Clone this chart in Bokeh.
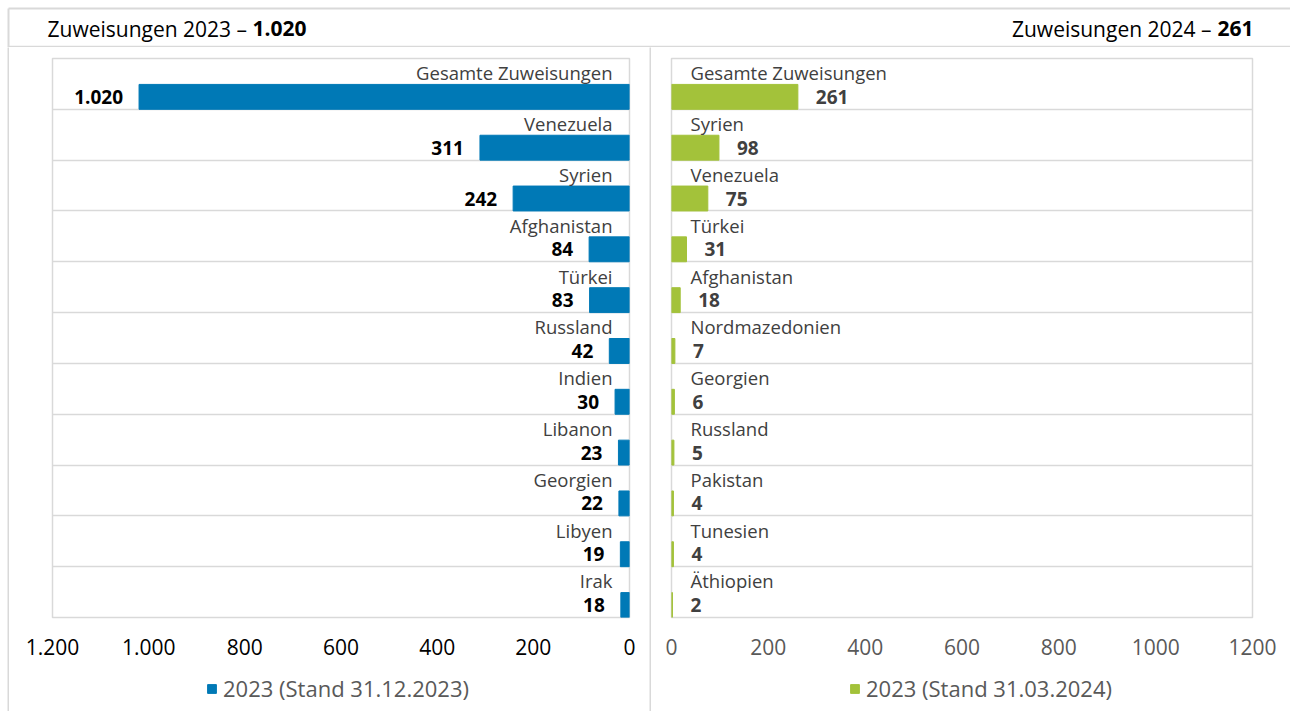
from bokeh.plotting import figure
from bokeh.models import Range1d, FixedTicker, Legend, LegendItem, ColumnDataSource, Spacer
from bokeh.layouts import row, column
from bokeh.embed import file_html
from bokeh.resources import INLINE
from bokeh.core.properties import value

# ---- data ----
left_countries = ["Gesamte Zuweisungen", "Venezuela", "Syrien", "Afghanistan", "Türkei",
                  "Russland", "Indien", "Libanon", "Georgien", "Libyen", "Irak"]
left_values = [1020, 311, 242, 84, 83, 42, 30, 23, 22, 19, 18]
left_value_labels = ["1.020", "311", "242", "84", "83", "42", "30", "23", "22", "19", "18"]

right_countries = ["Gesamte Zuweisungen", "Syrien", "Venezuela", "Türkei", "Afghanistan",
                   "Nordmazedonien", "Georgien", "Russland", "Pakistan", "Tunesien", "Äthiopien"]
right_values = [261, 98, 75, 31, 18, 7, 6, 5, 4, 4, 2]
right_value_labels = ["261", "98", "75", "31", "18", "7", "6", "5", "4", "4", "2"]

ticks = [0, 200, 400, 600, 800, 1000, 1200]
left_tick_labels = ["0", "200", "400", "600", "800", "1.000", "1.200"]
right_tick_labels = ["0", "200", "400", "600", "800", "1000", "1200"]

left_title = "Zuweisungen 2023 –"
left_title_bold = "1.020"
right_title = "Zuweisungen 2024 –"
right_title_bold = "261"
left_legend = "2023 (Stand 31.12.2023)"
right_legend = "2023 (Stand 31.03.2024)"

BLUE = "#0079B6"
GREEN = "#A3C23A"
LINE = "#D9D9D9"
FONT = "Open Sans"
W, H = 1290, 711
HEAD = 47          # header height
PLOT_H = 618       # plot figure height (47..665)
LEG_H = H - HEAD - PLOT_H


def plain_fig(width, height, xr, yr, bg="white"):
    p = figure(width=width, height=height, x_range=xr, y_range=yr,
               output_backend="svg", toolbar_location=None,
               x_axis_location=None, y_axis_location=None,
               min_border=0)
    p.outline_line_color = None
    p.grid.visible = False
    p.background_fill_color = bg
    p.border_fill_color = bg
    return p


def plot_fig(width, xr, mbl, mbr, tick_labels, tick_color):
    n = len(left_countries)
    p = figure(width=width, height=PLOT_H, x_range=xr, y_range=Range1d(n, 0),
               output_backend="svg", toolbar_location=None, y_axis_location=None,
               min_border_left=mbl, min_border_right=mbr,
               min_border_top=58 - HEAD, min_border_bottom=PLOT_H - (617 - HEAD))
    p.outline_line_color = LINE
    p.outline_line_width = 1.5
    p.xgrid.visible = False
    p.ygrid.ticker = FixedTicker(ticks=list(range(1, n)))
    p.ygrid.grid_line_color = LINE
    p.ygrid.grid_line_width = 1.5
    ax = p.xaxis[0]
    ax.ticker = FixedTicker(ticks=ticks)
    ax.major_label_overrides = {t: l for t, l in zip(ticks, tick_labels)}
    ax.axis_line_color = None
    ax.major_tick_line_color = None
    ax.minor_tick_line_color = None
    ax.major_label_standoff = 15
    ax.major_label_text_font = FONT
    ax.major_label_text_font_size = "21px"
    ax.major_label_text_color = tick_color
    p.background_fill_color = "white"
    p.border_fill_color = "white"
    return p


def add_rows(p, countries, vals, vlabels, color, side, val_color):
    n = len(countries)
    ys_bar = [i + 0.755 for i in range(n)]
    ys_cat = [i + 0.28 for i in range(n)]
    src = ColumnDataSource(dict(y=ys_bar, v=vals, lab=vlabels))
    p.hbar(y="y", left=0, right="v", height=0.49, color=color, source=src)
    csrc = ColumnDataSource(dict(y=ys_cat, x=[0] * n, t=countries))
    sign = -1 if side == "left" else 1
    align = "right" if side == "left" else "left"
    p.text(x="x", y="y", text="t", source=csrc, x_offset=sign * (17 if side == "left" else 19),
           text_align=align, text_baseline="middle", text_font=value(FONT),
           text_font_size="18.5px", text_color="#404040")
    p.text(x="v", y="y", text="lab", source=src, x_offset=sign * (16 if side == "left" else 18),
           text_align=align, text_baseline="middle", text_font=value(FONT),
           text_font_size="19px", text_font_style="bold", text_color=val_color)


def legend_fig(width, color, label, lx):
    p = plain_fig(width, LEG_H, Range1d(0, 1), Range1d(0, 1))
    # proxy glyph (kept outside the visible range) that only feeds the legend swatch
    r = p.hbar(y=[-10], left=[0], right=[1], height=0.5, color=color)
    leg = Legend(items=[LegendItem(label=label, renderers=[r])],
                 location=(lx, 8), orientation="horizontal", border_line_color=None,
                 background_fill_alpha=0, glyph_width=11, glyph_height=11,
                 label_text_font=FONT, label_text_font_size="22px", label_height=20,
                 label_text_color="#595959", label_standoff=6, padding=0, margin=0)
    p.add_layout(leg, "center")
    return p


# ---- header ----
head = plain_fig(W, HEAD, Range1d(0, W), Range1d(HEAD, 0))
head.segment(x0=[8, 8], y0=[8, 46], x1=[W, W], y1=[8, 46], line_color=LINE, line_width=[2, 1.5])
head.segment(x0=[8], y0=[8], x1=[8], y1=[HEAD], line_color=LINE, line_width=2)
head.text(x=[47], y=[28], text=[left_title], text_baseline="middle", text_font=value(FONT),
          text_font_size="21px", text_color="#000000")
head.text(x=[252], y=[28], text=[left_title_bold], text_baseline="middle", text_font=value(FONT),
          text_font_size="21px", text_font_style="bold", text_color="#000000")
head.text(x=[1211], y=[28], text=[right_title], text_align="right", text_baseline="middle",
          text_font=value(FONT), text_font_size="21px", text_color="#000000")
head.text(x=[1253], y=[28], text=[right_title_bold], text_align="right", text_baseline="middle",
          text_font=value(FONT), text_font_size="21px", text_font_style="bold", text_color="#000000")

# ---- left panel ----
X0 = 9            # left panel starts after the left border line
LW = 649 - X0     # up to divider
pl = plot_fig(LW, Range1d(1200, 0), 52 - X0, (X0 + LW) - 629, left_tick_labels, "#000000")
add_rows(pl, left_countries, left_values, left_value_labels, BLUE, "left", "#000000")
ll = legend_fig(LW, BLUE, left_legend, 154)

# ---- right panel ----
RX0 = 651
RW = W - RX0
pr = plot_fig(RW, Range1d(0, 1200), 671 - RX0, W - 1252, right_tick_labels, "#595959")
add_rows(pr, right_countries, right_values, right_value_labels, GREEN, "right", "#404040")
rl = legend_fig(RW, GREEN, right_legend, 178)

vline_left = plain_fig(2, H - HEAD, Range1d(0, 1), Range1d(0, 1), bg=LINE)
divider = plain_fig(2, H - HEAD, Range1d(0, 1), Range1d(0, 1), bg=LINE)

body = row(Spacer(width=7, height=H - HEAD), vline_left, column(pl, ll), divider, column(pr, rl))
layout = column(head, body)
open("out.html", "w").write(file_html(layout, INLINE))
